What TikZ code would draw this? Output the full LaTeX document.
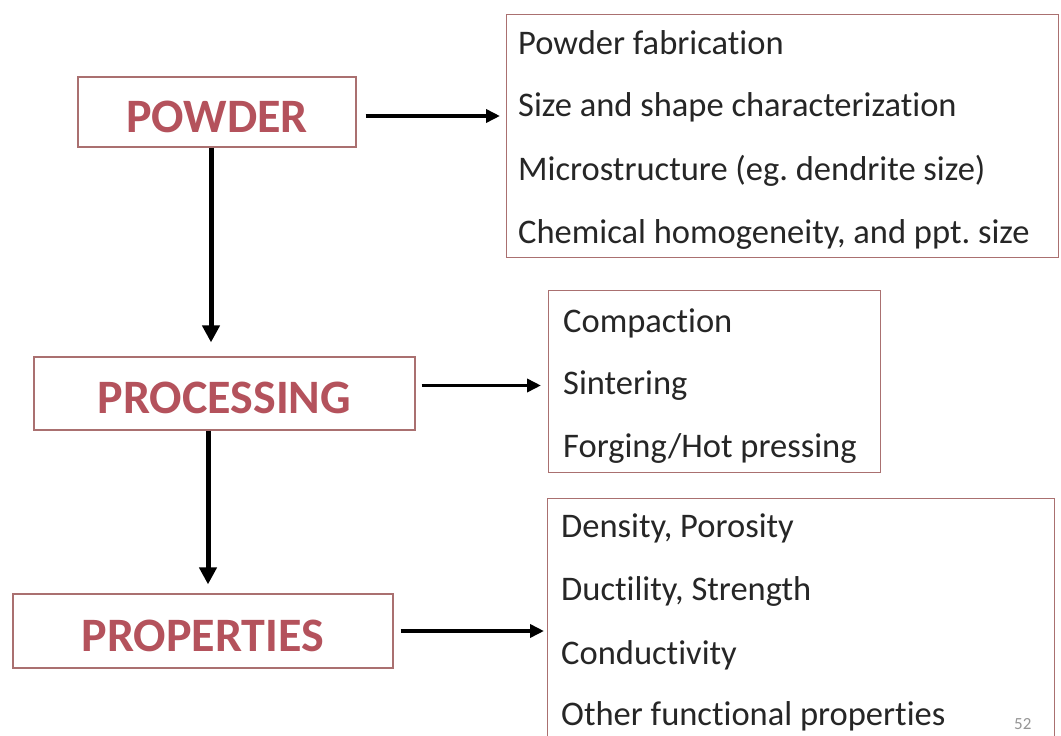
\documentclass[tikz,border=0pt]{standalone}
\usepackage{fontspec}
\setmainfont{Carlito}[Ligatures={NoCommon}]
\usetikzlibrary{arrows.meta}
\definecolor{lblred}{RGB}{180,82,92}
\definecolor{boxline}{RGB}{170,112,112}
\definecolor{pgnum}{RGB}{150,150,150}
\frenchspacing
\begin{document}
\begin{tikzpicture}[x=1pt,y=-1pt,
  stagebox/.style={draw=boxline,line width=1.2pt,fill=white,inner sep=0pt,
    text height=40pt,text depth=0pt,
    font=\fontsize{48}{54}\selectfont\bfseries,text=lblred},
  listbox/.style={draw=boxline,line width=1.2pt,inner sep=0pt,anchor=north west},
  item/.style={anchor=base west,inner sep=0pt,font=\fontsize{34.5}{40}\selectfont,text=black!85},
  harr/.style={line width=3.8pt,-{Triangle[length=14pt,width=13pt]}},
  varr/.style={line width=5pt,-{Triangle[length=17pt,width=17pt]}}]
\useasboundingbox (0,0) rectangle (1061,736);
\clip (0,0) rectangle (1061,736);
\fill[white] (0,0) rectangle (1061,736);

% stage boxes
\node[stagebox,minimum width=278pt,minimum height=70pt] (powder) at (217,112) {POWDER};
\node[stagebox,minimum width=381pt,minimum height=73pt] (processing) at (224.5,393.5) {PROCESSING};
\node[stagebox,minimum width=380pt,minimum height=74pt] (properties) at (203,631) {PROPERTIES};

% list boxes
\node[listbox,minimum width=552pt,minimum height=243pt] (box1) at (506,14) {};
\node[listbox,minimum width=332pt,minimum height=182pt] (box2) at (548,290) {};
\node[listbox,minimum width=507pt,minimum height=300pt] (box3) at (547,498) {};

% list items
\node[item] (i11) at (518,54) {Powder fabrication};
\node[item] (i12) at (518,116) {Size and shape characterization};
\node[item] (i13) at (518,180) {Microstructure (eg. dendrite size)};
\node[item] (i14) at (518,243) {Chemical homogeneity, and ppt. size};

\node[item] (i21) at (563,332) {Compaction};
\node[item] (i22) at (563,394) {Sintering};
\node[item] (i23) at (563,457) {Forging/Hot pressing};

\node[item] (i31) at (561,537) {Density, Porosity};
\node[item] (i32) at (561,600) {Ductility, Strength};
\node[item] (i33) at (561,664) {Conductivity};
\node[item] (i34) at (561,725) {Other functional properties};

% page number
\node[anchor=base west,inner sep=0pt,font=\fontsize{17}{20}\selectfont,text=pgnum] (pg) at (1014,729) {52};

% connectors
\draw[harr] ([xshift=9pt,yshift=-4pt]powder.east) -- ([xshift=-6pt,yshift=-4pt]powder.east -| box1.west);
\draw[harr] ([xshift=6pt,yshift=8pt]processing.east) -- ([xshift=-7pt,yshift=8pt]processing.east -| box2.west);
\draw[harr] ([xshift=7pt]properties.east) -- ([xshift=-3pt]properties.east -| box3.west);

\draw[varr] ([xshift=-6pt]powder.south) -- ([xshift=-6pt,yshift=14pt]powder.south |- processing.north);
\draw[varr] ([xshift=-16.5pt]processing.south) -- ([xshift=-16.5pt,yshift=9pt]processing.south |- properties.north);
\end{tikzpicture}
\end{document}
